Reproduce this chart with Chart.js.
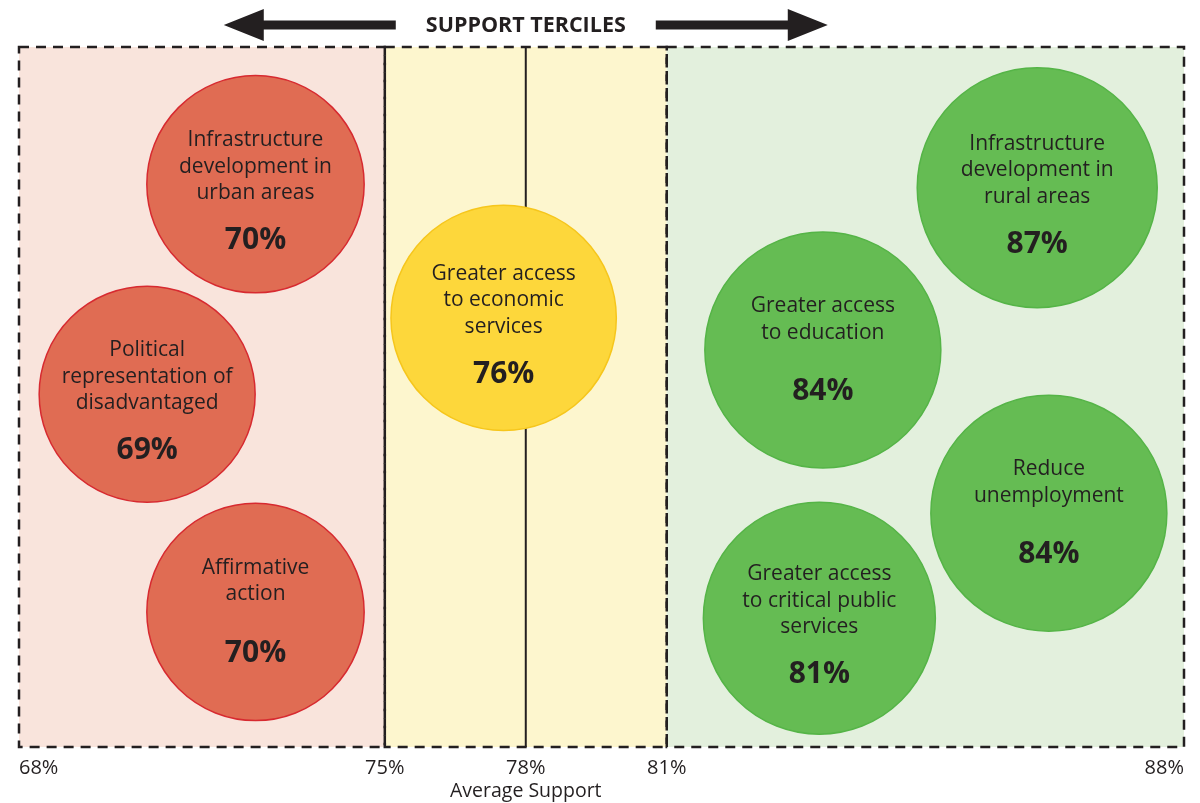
<!DOCTYPE html>
<html>
<head>
<meta charset="utf-8">
<script src="https://cdn.jsdelivr.net/npm/chart.js@4.4.1/dist/chart.umd.min.js"></script>
<style>
  html, body { margin: 0; padding: 0; background: #fff; }
</style>
</head>
<body>
<canvas id="c" width="1200" height="803"></canvas>
<script>
const policies = [
  "Infrastructure\ndevelopment in\nurban areas",
  "Political\nrepresentation of\ndisadvantaged",
  "Affirmative\naction",
  "Greater access\nto economic\nservices",
  "Infrastructure\ndevelopment in\nrural areas",
  "Greater access\nto education",
  "Reduce\nunemployment",
  "Greater access\nto critical public\nservices"
];
const support = [70, 69, 70, 76, 87, 84, 84, 81];
// where each bubble sits on the map (0-100 across, 0-100 up)
const mapX = [20.3, 11.0, 20.3, 41.6, 87.4, 69.0, 88.4, 68.7];
const mapY = [80.4, 50.4, 19.3, 61.3, 79.9, 56.7, 33.4, 18.4];

// axis: the percent ticks are not evenly spaced
const tickPct = [68, 75, 78, 81, 88];
const tickPos = [0, 31.4, 43.5, 55.6, 100];
const tickLabels = ["68%", "75%", "78%", "81%", "88%"];
const tercileEdges = [68, 75, 81, 88];
const averageSupport = 78;

const tercileFill = ["#E06C53", "#FDD73B", "#65BC53"];
const tercileStroke = ["#D72A30", "#F6C61C", "#55B447"];
const tercileBg = ["#F9E4DC", "#FDF6CE", "#E3F0DD"];
const ink = "#231F20";
const font = '"Open Sans", "Noto Sans", sans-serif';

const posOf = pct => tickPos[tickPct.indexOf(pct)];
const tercileOf = v => v < tercileEdges[1] ? 0 : (v < tercileEdges[2] ? 1 : 2);
const radiusOf = v => 108 + (v - 69) * 0.667;

// backgrounds, dashed frames, average line
const backdrop = {
  id: "backdrop",
  beforeDatasetsDraw(chart) {
    const { ctx, chartArea: a, scales: { x } } = chart;
    ctx.save();
    for (let i = 0; i < 3; i++) {
      const l = x.getPixelForValue(posOf(tercileEdges[i]));
      const r = x.getPixelForValue(posOf(tercileEdges[i + 1]));
      ctx.fillStyle = tercileBg[i];
      ctx.fillRect(l, a.top, r - l, a.bottom - a.top);
    }
    const m = x.getPixelForValue(posOf(averageSupport));
    ctx.strokeStyle = ink;
    ctx.lineWidth = 2;
    ctx.beginPath();
    ctx.moveTo(m, a.top);
    ctx.lineTo(m, a.bottom);
    ctx.stroke();

    ctx.setLineDash([10, 7]);
    ctx.lineWidth = 2.5;
    for (let i = 0; i < 3; i++) {
      const l = x.getPixelForValue(posOf(tercileEdges[i]));
      const r = x.getPixelForValue(posOf(tercileEdges[i + 1]));
      ctx.strokeRect(l, a.top, r - l, a.bottom - a.top);
    }
    ctx.restore();
  }
};

// text inside the bubbles
const bubbleText = {
  id: "bubbleText",
  afterDatasetsDraw(chart) {
    const ctx = chart.ctx;
    const meta = chart.getDatasetMeta(0);
    ctx.save();
    ctx.fillStyle = ink;
    ctx.textAlign = "center";
    ctx.textBaseline = "alphabetic";
    meta.data.forEach((pt, i) => {
      const lines = policies[i].split("\n");
      ctx.font = "21px " + font;
      lines.forEach((ln, k) => ctx.fillText(ln, pt.x, pt.y - 38 + k * 26.5));
      ctx.font = "bold 30px " + font;
      ctx.fillText(support[i] + "%", pt.x, pt.y + (lines.length > 2 ? 65 : 50));
    });
    ctx.restore();
  }
};

// header with arrows and axis caption
const header = {
  id: "header",
  afterDraw(chart) {
    const { ctx, scales: { x } } = chart;
    const cx = x.getPixelForValue(posOf(averageSupport));
    const cy = 25;
    ctx.save();
    ctx.fillStyle = ink;
    ctx.textAlign = "center";
    ctx.textBaseline = "middle";
    ctx.font = "bold 21.5px " + font;
    ctx.fillText("SUPPORT TERCILES", cx, cy + 1);

    [-1, 1].forEach(dir => {
      const inner = cx + dir * 130;
      const base = cx + dir * 262;
      const tip = cx + dir * 302;
      ctx.beginPath();
      ctx.moveTo(inner, cy - 4.5);
      ctx.lineTo(base, cy - 4.5);
      ctx.lineTo(base, cy - 16);
      ctx.lineTo(tip, cy);
      ctx.lineTo(base, cy + 16);
      ctx.lineTo(base, cy + 4.5);
      ctx.lineTo(inner, cy + 4.5);
      ctx.closePath();
      ctx.fill();
    });

    ctx.textBaseline = "alphabetic";
    ctx.font = "19.5px " + font;
    ctx.fillText("Average Support", cx, 797);
    ctx.restore();
  }
};

new Chart(document.getElementById("c"), {
  type: "bubble",
  data: {
    datasets: [{
      data: support.map((v, i) => ({ x: mapX[i], y: mapY[i], r: radiusOf(v) })),
      backgroundColor: support.map(v => tercileFill[tercileOf(v)]),
      borderColor: support.map(v => tercileStroke[tercileOf(v)]),
      borderWidth: 1.5,
      clip: false
    }]
  },
  options: {
    responsive: false,
    animation: false,
    events: [],
    layout: { autoPadding: false, padding: { top: 47, left: 19, right: 16, bottom: 0 } },
    plugins: { legend: { display: false }, tooltip: { enabled: false } },
    scales: {
      x: {
        type: "linear", min: 0, max: 100,
        afterBuildTicks: s => { s.ticks = tickPos.map(v => ({ value: v })); },
        afterFit: s => { s.height = 56; },
        grid: { display: false, drawTicks: false },
        border: { display: false },
        ticks: {
          autoSkip: false, maxRotation: 0, align: "inner", padding: 9,
          color: ink, font: { family: font, size: 20 },
          callback: (v, i) => tickLabels[i]
        }
      },
      y: { min: 0, max: 100, display: false }
    }
  },
  plugins: [backdrop, bubbleText, header]
});
</script>
</body>
</html>
